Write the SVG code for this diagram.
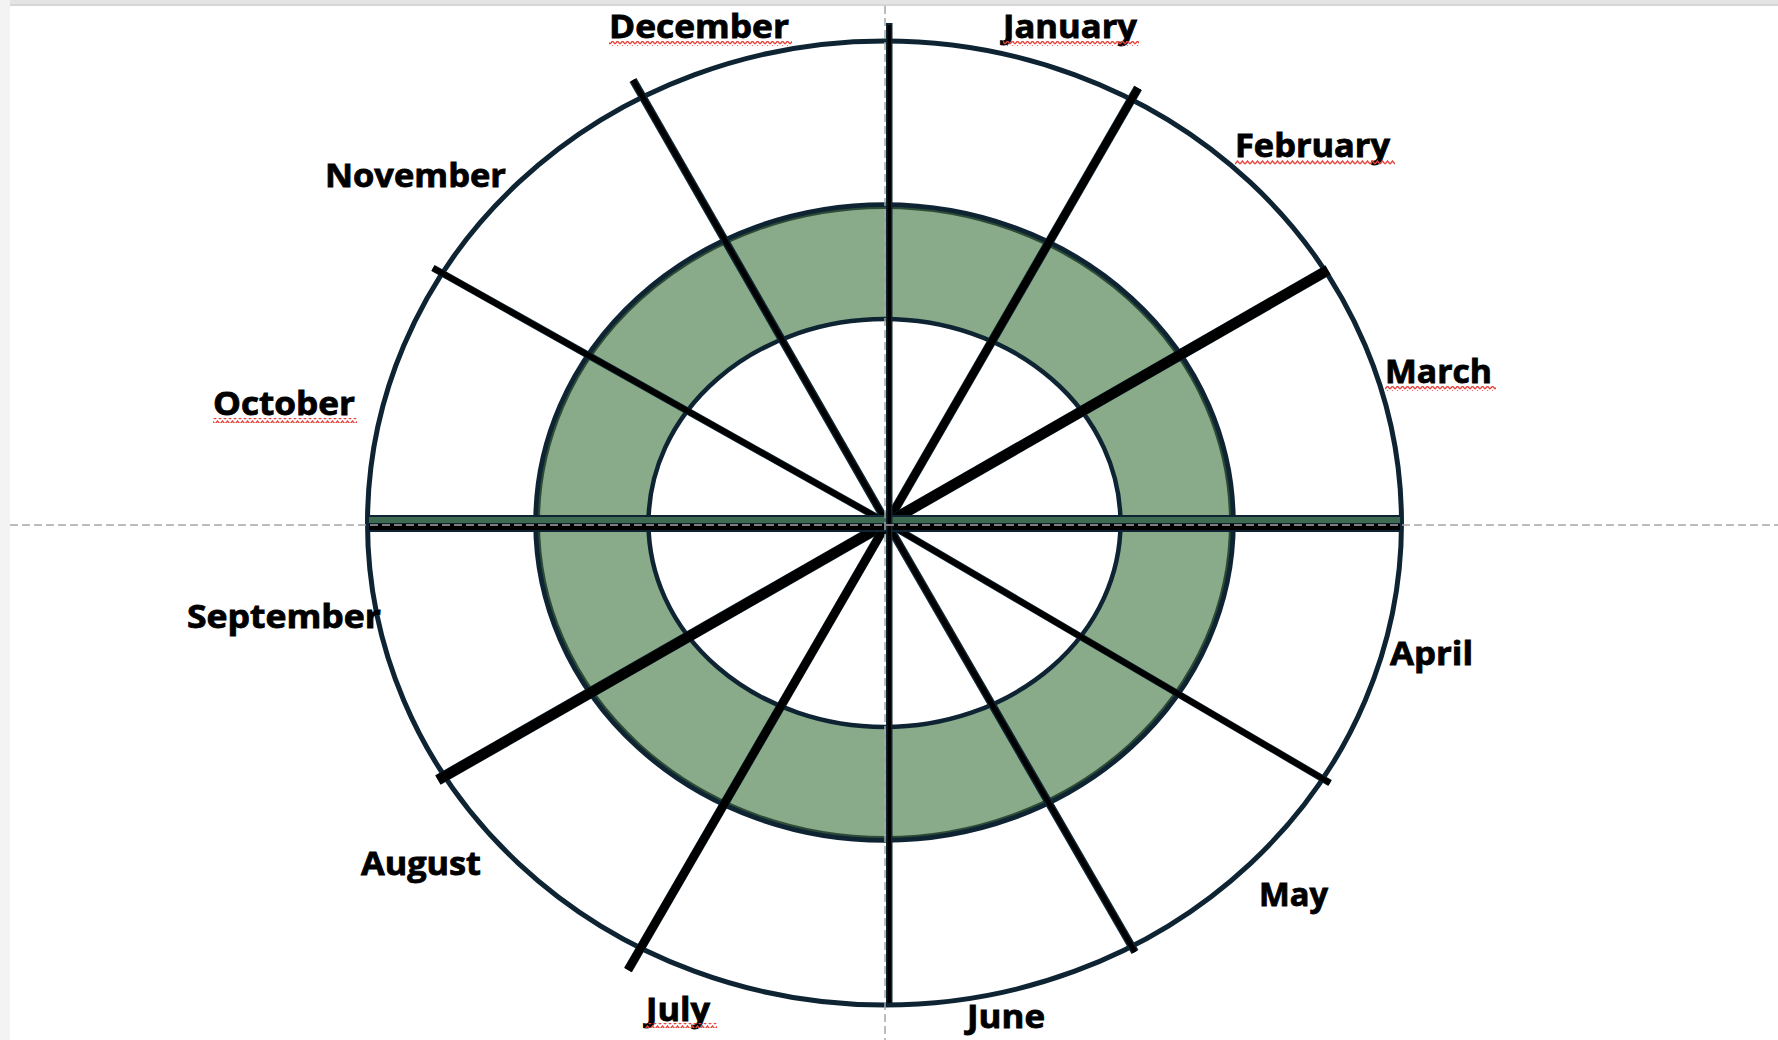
<svg xmlns="http://www.w3.org/2000/svg" width="1778" height="1040" viewBox="0 0 1778 1040">
<style>
.lbl{font-family:"Open Sans","Liberation Sans",sans-serif;font-weight:700;font-size:31.5px;fill:#000;stroke:#000;stroke-width:0.8}
.edge{stroke:#0e2433;fill:none;stroke-linecap:butt}
.core{stroke:#000;fill:none;stroke-linecap:butt}
.guide{stroke:#a6a6a6;stroke-width:1.5;stroke-dasharray:8 4;fill:none}
.sq{fill:url(#squig)}
</style>
<defs>
<pattern id="squig" patternUnits="userSpaceOnUse" width="5" height="5">
<path d="M0,4 L2.5,1 L5,4" fill="none" stroke="#e8453c" stroke-width="1.4"/>
</pattern>
</defs>
<rect x="0" y="0" width="1778" height="1040" fill="#ffffff"/>
<rect x="0" y="0" width="10" height="1040" fill="#f3f3f3"/>
<rect x="10" y="0" width="1768" height="4" fill="#e4e4e4"/>
<rect x="10" y="4" width="1768" height="2" fill="#d6d6d6"/>

<g id="outer-ring">
<ellipse cx="884.5" cy="523" rx="517" ry="482" fill="#ffffff" stroke="#0e2433" stroke-width="5"/>
</g>
<g id="green-band">
<ellipse cx="884.5" cy="522.5" rx="348.5" ry="317.5" fill="#8aab89" stroke="#0e2433" stroke-width="5.5"/>
<ellipse cx="884.5" cy="522.5" rx="345.5" ry="314.5" fill="none" stroke="#2d4b36" stroke-width="2"/>
<ellipse cx="884.5" cy="523" rx="236" ry="204" fill="#ffffff" stroke="#0e2433" stroke-width="4.5"/>
</g>

<g id="connectors">
<g id="spoke-dec"><line class="edge" x1="633" y1="80" x2="887" y2="523" stroke-width="8"/><line class="core" x1="633" y1="80" x2="887" y2="523" stroke-width="5"/></g>
<g id="spoke-jan"><line class="edge" x1="1138" y1="88" x2="887" y2="523" stroke-width="9"/><line class="core" x1="1138" y1="88" x2="887" y2="523" stroke-width="7.5"/></g>
<g id="spoke-mar"><line class="edge" x1="1328" y1="270" x2="887" y2="523" stroke-width="11"/><line class="core" x1="1328" y1="270" x2="887" y2="523" stroke-width="10"/></g>
<g id="spoke-nov"><line class="edge" x1="433" y1="268" x2="887" y2="523" stroke-width="7"/><line class="core" x1="433" y1="268" x2="887" y2="523" stroke-width="5.5"/></g>
<g id="spoke-aug"><line class="edge" x1="438" y1="780" x2="887" y2="523" stroke-width="11"/><line class="core" x1="438" y1="780" x2="887" y2="523" stroke-width="10"/></g>
<g id="spoke-jul"><line class="edge" x1="628" y1="970" x2="887" y2="523" stroke-width="9"/><line class="core" x1="628" y1="970" x2="887" y2="523" stroke-width="8"/></g>
<g id="spoke-may"><line class="edge" x1="1135" y1="952" x2="887" y2="523" stroke-width="8"/><line class="core" x1="1135" y1="952" x2="887" y2="523" stroke-width="5"/></g>
<g id="spoke-apr"><line class="edge" x1="1330" y1="783" x2="887" y2="523" stroke-width="7"/><line class="core" x1="1330" y1="783" x2="887" y2="523" stroke-width="5.5"/></g>
<g id="horizontal-bar">
<rect x="367" y="515" width="1035" height="17" fill="#0e2433"/>
<rect x="369" y="517" width="1031" height="6" fill="#3e6b52"/>
<rect x="369" y="524" width="1031" height="6" fill="#000000"/>
</g>
<g id="vertical-bar">
<rect x="886" y="23" width="6.5" height="982" fill="#0e2433"/>
<rect x="887.5" y="25" width="3.5" height="978" fill="#000000"/>
</g>
</g>

<g id="guides">
<line class="guide" x1="885" y1="6" x2="885" y2="1040"/>
<line class="guide" x1="10" y1="525" x2="1778" y2="525"/>
</g>

<g id="labels">
<g id="lbl-december"><text class="lbl" x="609" y="38" textLength="180" lengthAdjust="spacingAndGlyphs">December</text><rect class="sq" x="609" y="41" width="183" height="5"/></g>
<g id="lbl-january"><text class="lbl" x="1003" y="38" textLength="134" lengthAdjust="spacingAndGlyphs">January</text><rect class="sq" x="1003" y="41" width="136" height="5"/></g>
<g id="lbl-february"><text class="lbl" x="1235" y="157" textLength="155" lengthAdjust="spacingAndGlyphs">February</text><rect class="sq" x="1235" y="160" width="160" height="5"/></g>
<g id="lbl-march"><text class="lbl" x="1385" y="383" textLength="107" lengthAdjust="spacingAndGlyphs">March</text><rect class="sq" x="1385" y="386" width="111" height="5"/></g>
<g id="lbl-april"><text class="lbl" x="1390" y="665" textLength="83" lengthAdjust="spacingAndGlyphs">April</text></g>
<g id="lbl-may"><text class="lbl" x="1259" y="906" textLength="69" lengthAdjust="spacingAndGlyphs">May</text></g>
<g id="lbl-june"><text class="lbl" x="967" y="1028" textLength="78" lengthAdjust="spacingAndGlyphs">June</text></g>
<g id="lbl-july"><text class="lbl" x="646" y="1021" textLength="64" lengthAdjust="spacingAndGlyphs">July</text><rect class="sq" x="645" y="1023" width="72" height="5"/></g>
<g id="lbl-august"><text class="lbl" x="361" y="875" textLength="120" lengthAdjust="spacingAndGlyphs">August</text></g>
<g id="lbl-september"><text class="lbl" x="187" y="628" textLength="194" lengthAdjust="spacingAndGlyphs">September</text></g>
<g id="lbl-october"><text class="lbl" x="213" y="415" textLength="142" lengthAdjust="spacingAndGlyphs">October</text><rect class="sq" x="213" y="418" width="144" height="5"/></g>
<g id="lbl-november"><text class="lbl" x="325" y="187" textLength="181" lengthAdjust="spacingAndGlyphs">November</text></g>
</g>
</svg>
